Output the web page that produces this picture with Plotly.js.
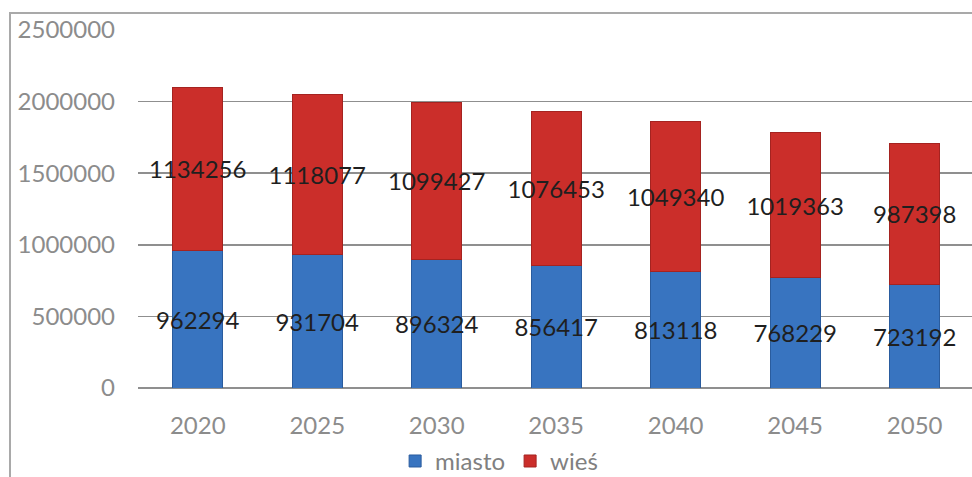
<!DOCTYPE html>
<html>
<head>
<meta charset="utf-8">
<script src="https://cdn.plot.ly/plotly-3.0.1.min.js"></script>
<style>
  html, body { margin: 0; padding: 0; background: #fff; }
  #wrap { position: relative; width: 972px; height: 477px; }
  #chart { position: absolute; left: 0; top: 0; width: 972px; height: 477px; }
  #frame { position: absolute; left: 9px; top: 12px; width: 1000px; height: 500px;
           border: 2px solid #a9a9a9; pointer-events: none; box-sizing: border-box; }
</style>
</head>
<body>
<div id="wrap">
  <div id="chart"></div>
  <div id="frame"></div>
</div>
<script>
const years = ["2020", "2025", "2030", "2035", "2040", "2045", "2050"];
const miasto = [962294, 931704, 896324, 856417, 813118, 768229, 723192];
const wies = [1134256, 1118077, 1099427, 1076453, 1049340, 1019363, 987398];
const seriesNames = ["miasto", "wieś"];
const yTicks = [0, 500000, 1000000, 1500000, 2000000, 2500000];

const font = "Lato, 'Open Sans', sans-serif";

function barTrace(name, values, color, lineColor) {
  return {
    type: "bar",
    name: name,
    x: years,
    y: values,
    text: values.map(String),
    textposition: "inside",
    insidetextanchor: "middle",
    textangle: 0,
    constraintext: "none",
    cliponaxis: false,
    textfont: { family: font, size: 24, color: "#1f1f1f" },
    marker: { color: color, line: { color: lineColor, width: 1 } },
    hoverinfo: "x+y+name"
  };
}

const data = [
  barTrace(seriesNames[0], miasto, "#3874c0", "#2a5c9e"),
  barTrace(seriesNames[1], wies, "#cb2e2a", "#a52320")
];

const layout = {
  width: 972,
  height: 477,
  margin: { l: 138, r: 0, t: 30, b: 89, pad: 0, autoexpand: false },
  paper_bgcolor: "#ffffff",
  plot_bgcolor: "#ffffff",
  barmode: "stack",
  bargap: 0.58,
  showlegend: true,
  legend: {
    orientation: "h",
    traceorder: "normal",
    x: 0.433,
    xanchor: "center",
    y: -0.205,
    yanchor: "middle",
    font: { family: font, size: 24, color: "#808080" },
    itemwidth: 30,
    tracegroupgap: 0,
    bgcolor: "rgba(0,0,0,0)"
  },
  xaxis: {
    type: "category",
    range: [-0.5, 6.48],
    showgrid: false,
    showline: false,
    zeroline: false,
    ticks: "",
    ticklabelstandoff: 21,
    tickfont: { family: font, size: 24, color: "#8c8c8c" },
    fixedrange: true
  },
  yaxis: {
    range: [0, 2500000],
    tickmode: "array",
    tickvals: yTicks,
    ticktext: yTicks.map(String),
    showgrid: true,
    gridcolor: "#8f8f8f",
    gridwidth: 1.5,
    zeroline: true,
    zerolinecolor: "#8f8f8f",
    zerolinewidth: 1.5,
    showline: false,
    ticks: "",
    ticklabelstandoff: 22,
    tickfont: { family: font, size: 24, color: "#8c8c8c" },
    fixedrange: true
  }
};

Plotly.newPlot("chart", data, layout, { displayModeBar: false, staticPlot: true });
</script>
</body>
</html>
